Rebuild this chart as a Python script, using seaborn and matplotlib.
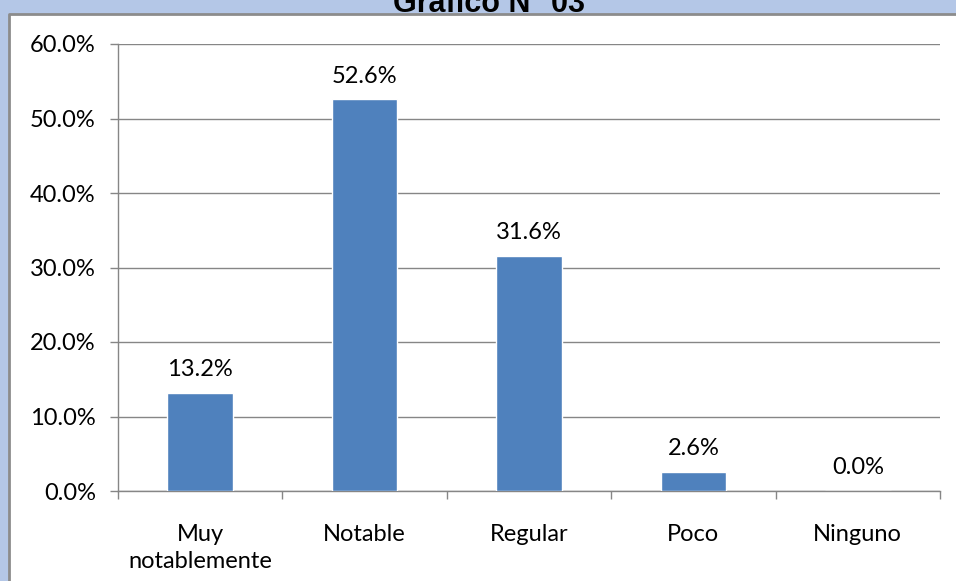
import numpy as np
import pandas as pd
import matplotlib
matplotlib.use("Agg")
import matplotlib.pyplot as plt
from matplotlib.patches import Rectangle
from matplotlib.lines import Line2D
from matplotlib.ticker import FixedLocator, PercentFormatter
import seaborn as sns

# chart data
categorias = ["Muy\nnotablemente", "Notable", "Regular", "Poco", "Ninguno"]
porcentajes = [13.2, 52.6, 31.6, 2.6, 0.0]
y_ticks = [0, 10, 20, 30, 40, 50, 60]
titulo = "Gráfico N° 03"

data = pd.DataFrame({"categoria": categorias, "porcentaje": porcentajes})

sns.set_style("white")
plt.rcParams["font.family"] = ["Lato", "DejaVu Sans"]
plt.rcParams["text.color"] = "black"

gris = "#868686"
W, H = 956, 581
fig = plt.figure(figsize=(W / 100, H / 100), dpi=100)
fig.patch.set_facecolor("#B4C7E7")

# white chart panel (behind the axes), runs off the right and bottom edges
x0, y0 = 9 / W, (H - 14) / H
fig.patches.append(Rectangle((x0, 0), 1 - x0, y0, transform=fig.transFigure,
                             facecolor="white", edgecolor="none", zorder=-10))
fig.lines.append(Line2D([x0, x0, 1], [0, y0, y0], transform=fig.transFigure,
                        color="#8C8C8C", linewidth=2, zorder=-9))
fig.text(489 / W, (H - 12) / H, titulo, ha="center", va="baseline",
         fontsize=22, fontweight="bold", color="black",
         family=["Liberation Sans", "DejaVu Sans"])

ax = fig.add_axes([118 / W, 90 / H, (940 - 118) / W, (491 - 44) / H])
ax.set_facecolor("none")
sns.barplot(data=data, x="categoria", y="porcentaje", color="#4F81BD",
            width=0.4, saturation=1, ax=ax, zorder=3)

ax.set_ylim(0, 60)
ax.set_xlim(-0.5, len(categorias) - 0.5)
ax.yaxis.set_major_locator(FixedLocator(y_ticks))
ax.yaxis.set_major_formatter(PercentFormatter(decimals=1))
ax.grid(axis="y", color=gris, linewidth=1, zorder=0)
ax.set_axisbelow(True)

for s in ["top", "right"]:
    ax.spines[s].set_visible(False)
for s in ["left", "bottom"]:
    ax.spines[s].set_color(gris)
    ax.spines[s].set_linewidth(1)

ax.set_xlabel("")
ax.set_ylabel("")
ax.tick_params(axis="y", left=True, length=6, width=1, color=gris,
               labelsize=17, pad=10, labelcolor="black")
ax.set_xticks(np.arange(-0.5, len(categorias), 1), minor=True)
ax.tick_params(axis="x", which="minor", bottom=True, length=6, width=1, color=gris)
ax.tick_params(axis="x", which="major", bottom=False, labelsize=17, pad=20,
               labelcolor="black")
for lbl in ax.get_xticklabels():
    lbl.set_linespacing(1.4)

ax.bar_label(ax.containers[0], fmt="%.1f%%", padding=9, fontsize=17, color="black")

fig.savefig("out.png", dpi=100, facecolor=fig.get_facecolor())
